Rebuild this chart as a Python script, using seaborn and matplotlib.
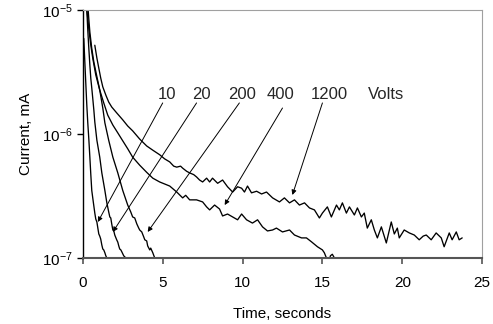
import pandas as pd
import matplotlib
matplotlib.use("Agg")
import matplotlib.pyplot as plt
from matplotlib.ticker import NullLocator, LogFormatterSciNotation
import seaborn as sns

# time (s) and current (mA), one pair of lists per voltage
t_10 = [0.06, 0.12, 0.19, 0.25, 0.31, 0.38, 0.44, 0.5, 0.56, 0.66, 0.75, 0.81,
        0.88, 0.94, 1.0, 1.06, 1.12, 1.19, 1.25, 1.31, 1.38, 1.44, 1.5, 1.56]
i_10 = [5.9e-6, 3.95e-6, 2.5e-6, 1.7e-6, 1.23e-6, 8.9e-7, 6.5e-7, 4.7e-7, 3.5e-7,
        2.8e-7, 2.3e-7, 2.06e-7, 1.95e-7, 1.74e-7, 1.56e-7, 1.5e-7, 1.42e-7,
        1.27e-7, 1.18e-7, 1.16e-7, 1.1e-7, 1.04e-7, 1.0e-7, 9.3e-8]

t_20 = [0.2, 0.25, 0.31, 0.38, 0.44, 0.5, 0.56, 0.62, 0.69, 0.75, 0.88, 1.06, 1.19,
        1.38, 1.5, 1.62, 1.69, 1.75, 1.81, 1.88, 1.94, 2.0, 2.12, 2.19, 2.25,
        2.31, 2.38, 2.44, 2.56, 2.69, 2.75]
i_20 = [1.2e-5, 1.0e-5, 6.9e-6, 4.8e-6, 3.6e-6, 2.8e-6, 2.35e-6, 1.95e-6, 1.56e-6,
        1.25e-6, 8.9e-7, 6.5e-7, 4.85e-7, 3.5e-7, 2.8e-7, 2.35e-7, 2.14e-7,
        2.1e-7, 1.88e-7, 1.68e-7, 1.65e-7, 1.53e-7, 1.4e-7, 1.34e-7, 1.25e-7,
        1.18e-7, 1.16e-7, 1.12e-7, 1.04e-7, 1.0e-7, 9.3e-8]

t_200 = [0.22, 0.25, 0.31, 0.38, 0.5, 0.62, 0.81, 1.06, 1.25, 1.38, 1.62, 1.88,
         2.19, 2.5, 2.81, 3.0, 3.12, 3.25, 3.38, 3.5, 3.56, 3.69, 3.81, 3.88,
         4.0, 4.06, 4.19, 4.25, 4.38, 4.5, 4.56]
i_200 = [1.2e-5, 1.0e-5, 8.6e-6, 6.9e-6, 5.2e-6, 4.1e-6, 3.0e-6, 2.26e-6, 1.62e-6,
         1.23e-6, 8.9e-7, 6.5e-7, 4.85e-7, 3.5e-7, 2.67e-7, 2.35e-7, 2.14e-7,
         2.1e-7, 1.88e-7, 1.74e-7, 1.68e-7, 1.62e-7, 1.48e-7, 1.4e-7, 1.37e-7,
         1.25e-7, 1.16e-7, 1.2e-7, 1.1e-7, 1.0e-7, 9.3e-8]

t_400 = [0.28, 0.31, 0.38, 0.44, 0.56, 0.69, 0.88, 1.06, 1.31, 1.56, 1.88, 2.19,
         2.5, 2.81, 3.12, 3.56, 4.0, 4.38, 4.81, 5.12, 5.44, 5.88, 6.25, 6.44,
         6.69, 7.12, 7.5, 7.75, 7.94, 8.25, 8.56, 8.75, 9.06, 9.38, 9.69, 9.94,
         10.25, 10.62, 10.94, 11.25, 11.56, 11.88, 12.12, 12.5, 12.94, 13.25,
         13.69, 14.0, 14.31, 14.69, 15.0, 15.12, 15.25, 15.31, 15.38, 15.5,
         15.62, 15.75, 15.81]
i_400 = [1.2e-5, 1.1e-5, 8.3e-6, 6.65e-6, 4.9e-6, 3.8e-6, 2.9e-6, 2.26e-6, 1.78e-6,
         1.42e-6, 1.18e-6, 1.02e-6, 8.8e-7, 7.6e-7, 6.5e-7, 5.6e-7, 4.9e-7,
         4.4e-7, 4.1e-7, 3.95e-7, 3.8e-7, 3.4e-7, 3.05e-7, 3.2e-7, 2.94e-7,
         2.94e-7, 2.83e-7, 2.58e-7, 2.44e-7, 2.67e-7, 2.48e-7, 2.18e-7, 2.26e-7,
         2.14e-7, 2.03e-7, 2.26e-7, 2.03e-7, 1.91e-7, 2.03e-7, 1.78e-7, 1.65e-7,
         1.68e-7, 1.74e-7, 1.62e-7, 1.68e-7, 1.53e-7, 1.45e-7, 1.45e-7, 1.35e-7,
         1.23e-7, 1.16e-7, 1.1e-7, 1.0e-7, 9.3e-8, 9.0e-8, 1.04e-7, 1.07e-7,
         1.0e-7, 9.0e-8]

t_1200 = [0.75, 0.88, 1.0, 1.12, 1.25, 1.44, 1.62, 1.81, 2.12, 2.5,
          2.81, 3.12, 3.56, 4.0, 4.38, 4.81, 5.12, 5.44, 5.69, 5.88,
          6.12, 6.25, 6.5, 6.69, 6.94, 7.12, 7.31, 7.5, 7.75, 7.94,
          8.12, 8.44, 8.75, 9.06, 9.38, 9.69, 9.94, 10.12, 10.31, 10.56,
          10.88, 11.19, 11.5, 11.88, 12.31, 12.62, 12.94, 13.25, 13.56, 13.88,
          14.19, 14.5, 14.81, 15.0, 15.31, 15.56, 15.88, 16.06, 16.25, 16.5,
          16.69, 17.0, 17.19, 17.44, 17.62, 17.81, 18.06, 18.25, 18.44, 18.69,
          19.0, 19.31, 19.5, 19.69, 19.81, 20.12, 20.44, 20.75, 21.06, 21.31,
          21.5, 21.81, 22.12, 22.44, 22.62, 22.94, 23.12, 23.38, 23.56, 23.75]
i_1200 = [5.2e-6, 4.1e-6, 3.4e-6, 2.83e-6, 2.4e-6, 2.06e-6, 1.81e-6, 1.65e-6, 1.48e-6, 1.3e-6,
          1.16e-6, 1.06e-6, 9.1e-7, 8.0e-7, 7.4e-7, 6.8e-7, 6.3e-7, 5.95e-7, 5.5e-7, 5.4e-7,
          5.5e-7, 5.3e-7, 5.0e-7, 4.85e-7, 4.7e-7, 4.5e-7, 4.25e-7, 4.1e-7, 4.4e-7, 4.1e-7,
          4.4e-7, 4.0e-7, 4.25e-7, 3.75e-7, 3.4e-7, 3.75e-7, 3.65e-7, 3.4e-7, 3.8e-7, 3.35e-7,
          3.45e-7, 3.28e-7, 3.4e-7, 3.05e-7, 2.83e-7, 3.05e-7, 2.78e-7, 2.94e-7, 2.67e-7, 2.78e-7,
          2.53e-7, 2.44e-7, 2.1e-7, 2.3e-7, 2.58e-7, 2.14e-7, 2.67e-7, 2.44e-7, 2.78e-7, 2.3e-7,
          2.58e-7, 2.22e-7, 2.53e-7, 2.14e-7, 2.3e-7, 1.74e-7, 2.03e-7, 1.68e-7, 1.45e-7, 1.78e-7,
          1.32e-7, 1.95e-7, 1.56e-7, 1.74e-7, 1.45e-7, 1.68e-7, 1.59e-7, 1.53e-7, 1.4e-7, 1.5e-7,
          1.53e-7, 1.4e-7, 1.59e-7, 1.45e-7, 1.23e-7, 1.59e-7, 1.4e-7, 1.62e-7, 1.4e-7, 1.45e-7]

voltages = ["10", "20", "200", "400", "1200"]
series = {"10": (t_10, i_10), "20": (t_20, i_20), "200": (t_200, i_200),
          "400": (t_400, i_400), "1200": (t_1200, i_1200)}

# label text position (x, y) and arrow start/tip in data units
label_pos = {"10": (5.3, 2.07e-6), "20": (7.45, 2.07e-6), "200": (9.95, 2.07e-6),
             "400": (12.4, 2.07e-6), "1200": (15.45, 2.07e-6)}
arrow_from = {"10": (5.0, 1.78e-6), "20": (7.12, 1.78e-6), "200": (9.8, 1.78e-6),
              "400": (12.5, 1.62e-6), "1200": (15.0, 1.78e-6)}
arrow_to = {"10": (0.94, 1.95e-7), "20": (1.88, 1.62e-7), "200": (4.06, 1.62e-7),
            "400": (8.88, 2.67e-7), "1200": (13.12, 3.22e-7)}

rows = []
for v in voltages:
    for t, i in zip(*series[v]):
        rows.append({"volts": v, "time": t, "current": i})
df = pd.DataFrame(rows)

sns.set_theme(style="ticks")
plt.rcParams["font.family"] = ["Liberation Sans", "DejaVu Sans"]
plt.rcParams["mathtext.default"] = "regular"

fig, ax = plt.subplots(figsize=(4.93, 3.24), dpi=100)
fig.subplots_adjust(left=0.168, right=0.978, bottom=0.204, top=0.969)

sns.lineplot(data=df, x="time", y="current", hue="volts", units="volts",
             estimator=None, sort=False, palette=["black"] * 5, linewidth=0.95,
             legend=False, ax=ax, solid_joinstyle="round")

ax.set_yscale("log")
ax.set_ylim(1e-7, 1e-5)
ax.set_xlim(0, 25)
ax.set_xticks([0, 5, 10, 15, 20, 25])
ax.set_yticks([1e-7, 1e-6, 1e-5])
ax.yaxis.set_major_formatter(LogFormatterSciNotation())
ax.yaxis.set_minor_locator(NullLocator())

ax.spines["left"].set_color("black")
ax.spines["left"].set_linewidth(1.0)
ax.spines["bottom"].set_color("#555555")
ax.spines["bottom"].set_linewidth(1.5)
for s in ["top", "right"]:
    ax.spines[s].set_color("#a0a0a0")
    ax.spines[s].set_linewidth(0.8)

ax.tick_params(axis="x", direction="out", length=4, width=1.2, color="#555555",
               pad=9, labelsize=11, labelcolor="black")
ax.tick_params(axis="y", direction="out", length=4, width=1.0, color="black",
               pad=3, labelsize=11, labelcolor="black")

ax.set_xlabel("Time, seconds", fontsize=11, labelpad=12, color="black")
ax.set_ylabel("Current, mA", fontsize=11, labelpad=7, color="black")

for v in voltages:
    ax.text(*label_pos[v], v, fontsize=12, ha="center", va="center")
    ax.annotate("", xy=arrow_to[v], xytext=arrow_from[v],
                arrowprops=dict(arrowstyle="-|>", color="black", lw=0.7,
                                mutation_scale=7, shrinkA=0, shrinkB=0))
ax.text(19.0, 2.07e-6, "Volts", fontsize=12, ha="center", va="center")

fig.savefig("out.png", dpi=100)
